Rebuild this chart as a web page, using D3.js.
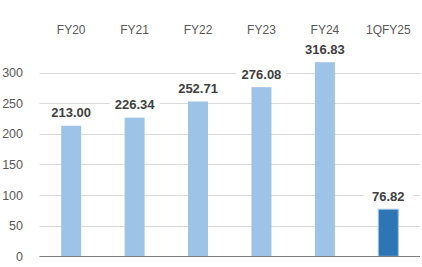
<!DOCTYPE html>
<html>
<head>
<meta charset="utf-8">
<script src="https://cdn.jsdelivr.net/npm/d3@7"></script>
<style>
  body { margin: 0; background: #fff; }
  svg { display: block; }
</style>
</head>
<body>
<svg id="chart"></svg>
<script>
const categories = ['FY20', 'FY21', 'FY22', 'FY23', 'FY24', '1QFY25'];
const values = [213.00, 226.34, 252.71, 276.08, 316.83, 76.82];
const yTicks = [0, 50, 100, 150, 200, 250, 300];

const width = 422, height = 267;
const margin = { top: 0, right: 2, bottom: 0, left: 39.5 };
const baseY = 256.3;

const svg = d3.select('#chart')
  .attr('width', width)
  .attr('height', height);

// x scale
const x = d3.scaleBand()
  .domain(categories)
  .range([margin.left, width - margin.right])
  .paddingInner(0.685)
  .paddingOuter(0.342);

// y scale
const y = d3.scaleLinear()
  .domain([0, 300])
  .range([baseY, 72.5]);

// gridlines
svg.append('g')
  .selectAll('line')
  .data(yTicks.filter(d => d > 0))
  .join('line')
  .attr('x1', margin.left)
  .attr('x2', width - margin.right)
  .attr('y1', d => Math.round(y(d)) + 0.5)
  .attr('y2', d => Math.round(y(d)) + 0.5)
  .attr('stroke', '#d9d9d9')
  .attr('stroke-width', 1);

// y axis labels
const yAxis = svg.append('g')
  .attr('transform', 'translate(' + margin.left + ',0)')
  .call(d3.axisLeft(y).tickValues(yTicks).tickSize(0).tickPadding(16.5));
yAxis.select('.domain').remove();
yAxis.selectAll('text')
  .attr('font-family', 'Liberation Sans, Arial, sans-serif')
  .attr('font-size', '12.5px')
  .attr('fill', '#595959');

// bars
svg.append('g')
  .selectAll('rect')
  .data(values)
  .join('rect')
  .attr('x', (d, i) => x(categories[i]))
  .attr('y', d => y(d))
  .attr('width', x.bandwidth())
  .attr('height', d => baseY - y(d))
  .attr('fill', (d, i) => i === values.length - 1 ? '#2e75b6' : '#9dc3e6')
  .attr('stroke', (d, i) => i === values.length - 1 ? '#9dc3e6' : 'none')
  .attr('stroke-width', 1);

// baseline
svg.append('line')
  .attr('x1', margin.left)
  .attr('x2', width - margin.right)
  .attr('y1', Math.round(baseY) + 0.5)
  .attr('y2', Math.round(baseY) + 0.5)
  .attr('stroke', '#7f7f7f')
  .attr('stroke-width', 1);

// top category labels
const xAxis = svg.append('g')
  .attr('transform', 'translate(0,34)')
  .call(d3.axisTop(x).tickSize(0).tickPadding(0));
xAxis.select('.domain').remove();
xAxis.selectAll('text')
  .attr('font-family', 'Liberation Sans, Arial, sans-serif')
  .attr('font-size', '12px')
  .attr('fill', '#595959');

// value labels with white background
const labels = svg.append('g')
  .selectAll('g')
  .data(values)
  .join('g')
  .attr('transform', (d, i) => 'translate(' + (x(categories[i]) + x.bandwidth() / 2) + ',' + (y(d) - 8.5) + ')');

labels.append('rect')
  .attr('x', -25)
  .attr('y', -12)
  .attr('width', 50)
  .attr('height', 16)
  .attr('fill', '#fff');

labels.append('text')
  .attr('text-anchor', 'middle')
  .attr('font-family', 'Liberation Sans, Arial, sans-serif')
  .attr('font-size', '13px')
  .attr('font-weight', 'bold')
  .attr('fill', '#404040')
  .text(d => d.toFixed(2));
</script>
</body>
</html>
